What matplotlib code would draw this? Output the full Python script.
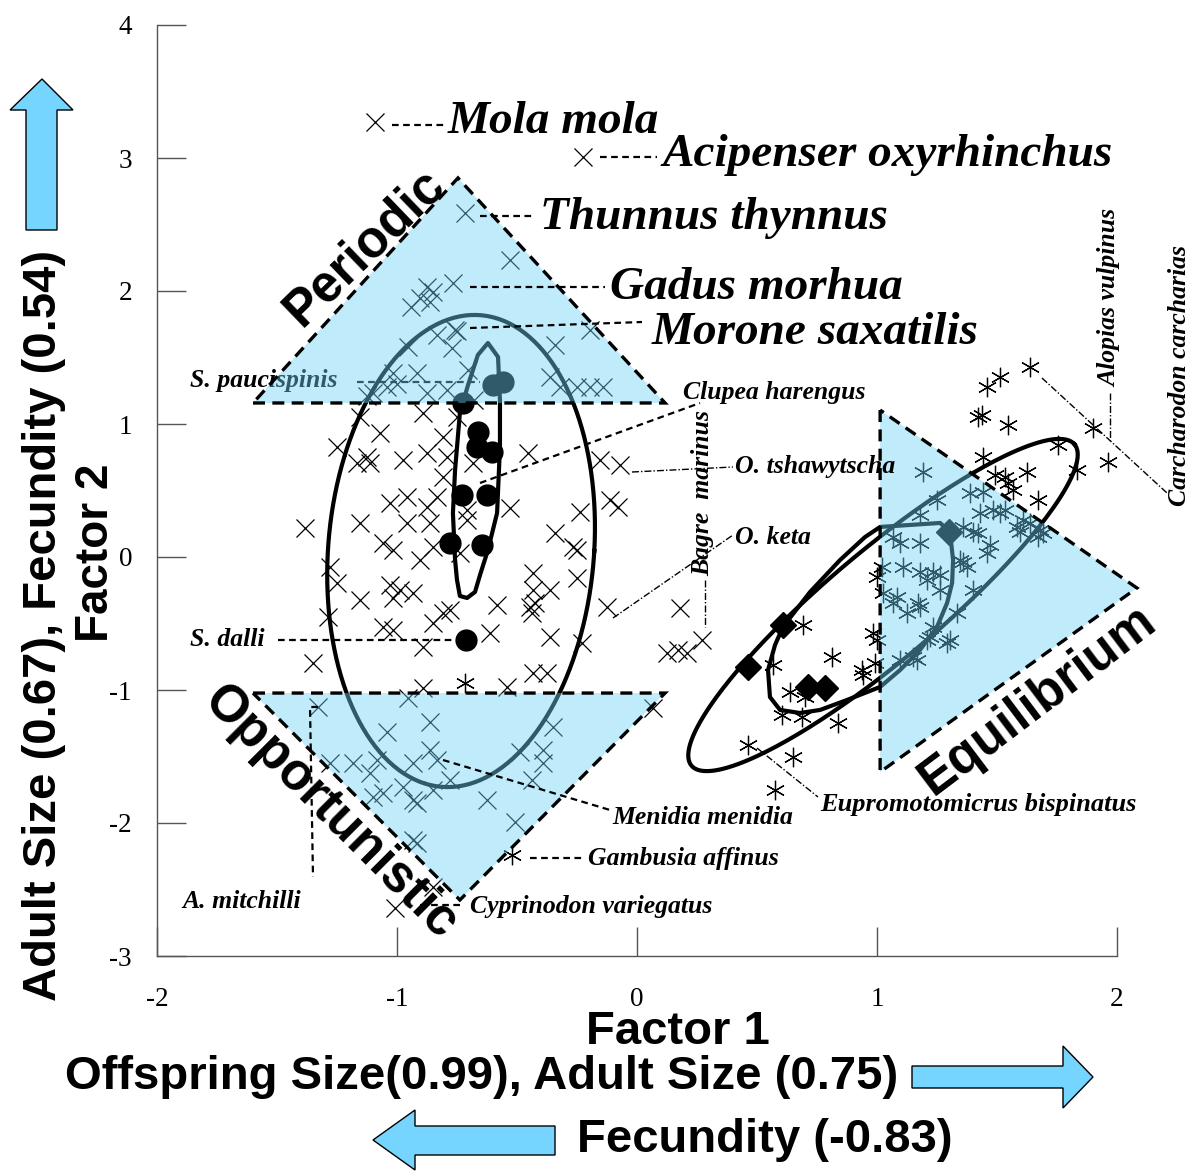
import numpy as np
import matplotlib
matplotlib.use("Agg")
import matplotlib.pyplot as plt
from matplotlib.patches import Polygon

plt.rcParams["axes.unicode_minus"] = False

# ---------------- data (factor scores) ----------------
# species with "x" markers (left group)
x_f1 = [-1.092, -0.225, -0.717, -0.529, -0.767, -0.875, -0.904, -0.863, -0.758, -0.833,
        -0.771, -0.954, -0.342, -0.196, -0.704, -0.917, -1.017, -1.042, -1.100, -0.875,
        -0.792, -0.363, -0.321, -0.250, -0.196, -0.142, -1.154, -1.071, -0.892, -0.808,
        -0.750, -1.250, -1.125, -1.167, -1.113, -0.975, -0.875, -0.792, -0.808, -0.683,
        -0.454, -0.154, -0.071, -1.029, -0.958, -0.875, -0.833, -0.708, -0.708, -0.529,
        -0.238, -0.113, -0.079, -1.383, -1.154, -0.958, -0.863, -1.058, -1.017, -0.904,
        -0.850, -0.738, -0.342, -0.267, -0.250, -1.279, -1.250, -1.288, -1.154, -1.029,
        -0.988, -0.933, -1.017, -0.808, -0.779, -0.850, -1.058, -1.017, -0.583, -0.433,
        -0.433, -0.363, -0.446, -0.250, -0.125, -0.613, -0.363, -0.229, -0.892, -1.350,
        -0.433, -0.375, -0.542, -0.892, -0.425, -0.438, 0.179, 0.125, 0.171, 0.208,
        0.271, 0.067, -1.329, -0.954, -0.863, -1.042, -1.279, -1.183, -1.113, -1.083,
        -0.933, -0.863, -0.833, -1.058, -0.975, -0.933, -0.850, -0.779, -0.625, -0.350,
        -0.392, -0.392, -0.438, -0.488, -1.100, -0.917, -0.933, -0.917, -0.508, -0.850,
        -1.008, -0.850, -0.940, -1.000, -1.125, -0.750, -0.680]
x_f2 = [3.271, 3.008, 2.586, 2.233, 2.060, 2.030, 1.947, 1.917, 1.707, 1.669,
        1.571, 1.579, 1.594, 1.707, 1.406, 1.383, 1.383, 1.278, 1.233, 1.233,
        1.256, 1.353, 1.278, 1.278, 1.278, 1.278, 1.053, 0.932, 1.083, 0.902,
        1.053, 0.827, 0.752, 0.707, 0.707, 0.729, 0.782, 0.752, 0.602, 0.707,
        0.782, 0.729, 0.692, 0.406, 0.451, 0.376, 0.451, 0.353, 0.278, 0.368,
        0.338, 0.429, 0.376, 0.218, 0.256, 0.256, 0.256, 0.105, 0.053, -0.023,
        0.075, 0.030, 0.180, 0.075, 0.053, -0.075, -0.195, -0.451, -0.323, -0.211,
        -0.248, -0.271, -0.308, -0.421, -0.398, -0.496, -0.526, -0.549, -0.361, -0.120,
        -0.248, -0.248, -0.376, -0.158, -0.376, -0.571, -0.602, -0.647, -0.677, -0.797,
        -0.872, -0.872, -0.977, -0.985, -0.346, -0.421, -0.383, -0.722, -0.699, -0.722,
        -0.624, -1.135, -1.128, -1.060, -1.241, -1.316, -1.549, -1.549, -1.624, -1.526,
        -1.549, -1.451, -1.526, -1.774, -1.729, -1.827, -1.752, -1.677, -1.827, -1.278,
        -1.451, -1.549, -1.677, -1.466, -1.805, -1.850, -2.128, -2.150, -1.992, -2.481,
        -2.639, 1.990, 1.880, 1.300, 1.210, 1.700, 1.180]

# species with asterisk markers (right group, plus two in the left group)
s_f1 = [1.638, 1.513, 1.458, 1.438, 1.421, 1.546, 1.900, 1.963, 1.754, 1.442,
        1.833, 1.492, 1.533, 1.546, 1.567, 1.625, 1.671, 1.000, 0.983, 1.000,
        0.992, 0.938, 0.942, 0.813, 0.692, 0.567, 0.638, 0.700, 0.604, 0.688,
        0.838, 0.463, 0.650, 0.575, 1.192, 1.250, 1.179, 1.388, 1.442, 1.429,
        1.513, 1.583, 1.638, 1.679, 1.671, 1.400, 1.067, 1.096, 1.179, 1.358,
        1.471, 1.458, 1.021, 1.108, 1.179, 1.233, 1.208, 1.346, 1.375, 1.263,
        1.400, 1.179, 1.083, 1.067, 1.025, 1.125, 1.333, 1.233, 1.221, 1.292,
        1.208, 1.096, 1.150, 1.608, 1.596, 1.692, 1.421, 1.358, 1.171, 1.304,
        1.167, 1.533, 1.483, 1.263, -0.717, -0.521]
s_f2 = [1.429, 1.353, 1.278, 1.068, 1.053, 0.992, 0.970, 0.714, 0.842, 0.752,
        0.654, 0.617, 0.602, 0.556, 0.504, 0.639, 0.429, -0.150, -0.571, -0.624,
        -0.797, -0.850, -0.887, -0.752, -0.511, -0.812, -1.015, -1.053, -1.188, -1.203,
        -1.248, -1.414, -1.504, -1.752, 0.639, 0.429, 0.316, 0.481, 0.489, 0.331,
        0.331, 0.226, 0.256, 0.203, 0.150, 0.188, 0.150, 0.105, 0.105, 0.226,
        0.090, 0.030, -0.075, -0.075, -0.113, -0.113, -0.173, -0.023, -0.075, -0.248,
        -0.248, -0.376, -0.301, -0.346, -0.271, -0.421, -0.421, -0.526, -0.602, -0.647,
        -0.624, -0.774, -0.752, 0.278, 0.188, 0.180, 0.180, -0.038, -0.346, -0.624,
        -0.774, 0.353, 0.353, -0.135, -0.947, -2.241]

# filled circles (rockfish / salmon group means)
c_f1 = [-0.600, -0.558, -0.725, -0.662, -0.667, -0.604, -0.729, -0.625, -0.779, -0.646, -0.713]
c_f2 = [1.293, 1.316, 1.158, 0.940, 0.827, 0.789, 0.466, 0.466, 0.105, 0.090, -0.624]

# filled diamonds (shark group)
d_f1 = [0.608, 0.463, 0.713, 0.783, 1.300]
d_f2 = [-0.511, -0.827, -0.977, -0.985, 0.188]

# confidence-ellipse parameters
big_left_c = (-0.733, 0.045); big_left_ax = (0.555, 1.775); big_left_shear = 0.056
big_right_c = (1.025, -0.361); big_right_u = (0.798, 1.208); big_right_v = (-0.147, 0.317)
small_left = [(-0.621, 1.609), (-0.579, 1.504), (-0.571, 1.180), (-0.571, 0.827), (-0.583, 0.331),
              (-0.621, 0.053), (-0.654, -0.135), (-0.675, -0.263), (-0.708, -0.308), (-0.738, -0.293),
              (-0.750, -0.173), (-0.758, -0.023), (-0.767, 0.331), (-0.758, 0.654), (-0.738, 1.083),
              (-0.704, 1.293), (-0.663, 1.519)]
small_right = [(1.013, 0.226), (1.263, 0.256), (1.304, 0.188), (1.317, -0.023), (1.313, -0.195),
               (1.292, -0.346), (1.250, -0.526), (1.179, -0.699), (1.096, -0.850), (1.013, -0.977),
               (0.875, -1.075), (0.763, -1.150), (0.679, -1.173), (0.596, -1.150), (0.554, -1.053),
               (0.546, -0.850), (0.575, -0.662), (0.608, -0.526), (0.721, -0.263), (0.846, -0.023),
               (0.950, 0.150)]

# strategy triangles
tri_periodic = [(-1.600, 1.158), (0.117, 1.158), (-0.746, 2.850)]
tri_opportunistic = [(-1.600, -1.023), (0.117, -1.023), (-0.738, -2.579)]
tri_equilibrium = [(1.013, 1.105), (1.013, -1.617), (2.083, -0.233)]

x_ticks = [-2, -1, 0, 1, 2]
y_ticks = [-3, -2, -1, 0, 1, 2, 3, 4]

# ---------------- figure ----------------
W, H = 1192, 1173
fig = plt.figure(figsize=(W / 100, H / 100), dpi=100)
L, R, T, B = 157, 1117, 25, 956
ax = fig.add_axes([L / W, 1 - B / H, (R - L) / W, (B - T) / H])
ax.set_xlim(-2, 2)
ax.set_ylim(-3, 4)


def d(px, py):
    """pixel position of the reference picture -> data coords (for annotations)"""
    return (px - 637) / 240.0, (557 - py) / 133.0


for s in ["top", "right"]:
    ax.spines[s].set_visible(False)
for s in ["left", "bottom"]:
    ax.spines[s].set_color("#555555")
    ax.spines[s].set_linewidth(1.0)
ax.set_xticks(x_ticks)
ax.set_yticks(y_ticks)
ax.tick_params(direction="in", length=21, width=1.0, color="#555555",
               labelsize=19.5, pad=18)
for lab in ax.get_xticklabels() + ax.get_yticklabels():
    lab.set_fontfamily("Liberation Serif")
ax.tick_params(axis="x", pad=22)

# ellipses
t = np.linspace(0, 2 * np.pi, 300)
ex = big_left_c[0] + big_left_ax[0] * np.cos(t) + big_left_shear * np.sin(t)
ey = big_left_c[1] + big_left_ax[1] * np.sin(t)
ax.plot(ex, ey, color="black", lw=3.0, zorder=2)
ex = big_right_c[0] + big_right_u[0] * np.cos(t) + big_right_v[0] * np.sin(t)
ey = big_right_c[1] + big_right_u[1] * np.cos(t) + big_right_v[1] * np.sin(t)
ax.plot(ex, ey, color="black", lw=3.0, zorder=2)
for poly in (small_left, small_right):
    ax.add_patch(Polygon(poly, closed=True, fill=False, ec="black", lw=3.0,
                         joinstyle="round", zorder=2))

# points
ax.plot(x_f1, x_f2, ls="none", marker="x", ms=13.5, mew=0.9, color="black", zorder=3)
ax.plot(s_f1, s_f2, ls="none", marker=(6, 2, 0), ms=14, mew=0.9, color="black", zorder=3)
ax.plot(c_f1, c_f2, ls="none", marker="o", ms=15, color="black", zorder=3)
ax.plot(d_f1, d_f2, ls="none", marker="D", ms=13, color="black", zorder=3)

# S. paucispinis label sits below the shading
ax.text(*d(190, 380), "S. paucispinis", fontfamily="Liberation Serif", fontsize=18.5,
        fontweight="bold", fontstyle="italic", ha="left", va="center", zorder=3.5)
ax.plot(*zip(d(357, 382), d(480, 382)), color="black", lw=1.6, ls=(0, (3, 2)), zorder=3.5)

# triangles
for tri in (tri_periodic, tri_opportunistic, tri_equilibrium):
    ax.add_patch(Polygon(tri, closed=True, fc="#6DD1F6", alpha=0.43, ec="none",
                         zorder=4, clip_on=False))
    ax.add_patch(Polygon(tri, closed=True, fill=False, ec="black", lw=2.4,
                         ls=(0, (3.6, 2.2)), zorder=5, clip_on=False))

# species labels
big = dict(fontfamily="Liberation Serif", fontsize=34, fontweight="bold",
           fontstyle="italic", ha="left", va="center", zorder=6)
small = dict(big, fontsize=18.5)
ax.text(*d(448, 122), "Mola mola", **big)
ax.text(*d(662, 155), "Acipenser oxyrhinchus", **big)
ax.text(*d(540, 218), "Thunnus thynnus", **big)
ax.text(*d(610, 288), "Gadus morhua", **big)
ax.text(*d(652, 333), "Morone saxatilis", **big)
ax.text(*d(683, 392), "Clupea harengus", **small)
ax.text(*d(735, 466), "O. tshawytscha", **small)
ax.text(*d(735, 538), "O. keta", **small)
ax.text(*d(190, 640), "S. dalli", **small)
ax.text(*d(612, 817), "Menidia menidia", **small)
ax.text(*d(588, 858), "Gambusia affinus", **small)
ax.text(*d(470, 907), "Cyprinodon variegatus", **small)
ax.text(*d(182, 902), "A. mitchilli", **small)
ax.text(*d(820, 804), "Eupromotomicrus bispinatus", **dict(small, fontsize=19))
vert = dict(small, ha="center", rotation=90)
ax.text(*d(703, 493), "Bagre  marinus", **vert)
ax.text(*d(1110, 298), "Alopias vulpinus", **vert)
ax.text(*d(1180, 375), "Carcharodon carcharias", **vert)

# leader lines
dashed = [[(392, 125), (445, 125)], [(600, 157), (657, 157)], [(480, 216), (535, 216)],
          [(470, 287), (605, 287)], [(470, 328), (642, 322)], [(480, 483), (700, 403)],
          [(278, 640), (455, 640)], [(443, 760), (610, 810)], [(530, 858), (585, 858)],
          [(420, 905), (463, 905)], [(318, 707), (310, 707), (313, 877)]]
for seg in dashed:
    xs, ys = zip(*[d(*p) for p in seg])
    ax.plot(xs, ys, color="black", lw=1.6, ls=(0, (3, 2)), zorder=6, clip_on=False)
dashdot = [[(632, 472), (733, 467)], [(613, 618), (733, 535)], [(705, 580), (705, 627)],
           [(1110, 393), (1110, 440)], [(1042, 378), (1167, 493)], [(757, 748), (818, 797)]]
for seg in dashdot:
    xs, ys = zip(*[d(*p) for p in seg])
    ax.plot(xs, ys, color="black", lw=1.0, ls=(0, (5, 1.5, 1, 1.5)), zorder=6, clip_on=False)

# strategy labels
reg = dict(fontfamily="Liberation Sans", fontsize=37, fontweight="bold",
           ha="center", va="center", zorder=6, rotation_mode="anchor")
ax.text(*d(365, 248), "Periodic", rotation=44, **reg)
ax.text(*d(330, 813), "Opportunistic", rotation=-45, **reg)
ax.text(*d(1038, 700), "Equilibrium", rotation=37, **reg)

# ---------------- overlay for axis titles and arrows (pixel coords) ----------------
ov = fig.add_axes([0, 0, 1, 1], zorder=10)
ov.set_xlim(0, W)
ov.set_ylim(H, 0)
ov.axis("off")
ov.patch.set_alpha(0)

arrow_col = "#75D5FF"
up = [(26, 230), (57, 230), (57, 110), (73, 110), (42, 79), (10, 110), (26, 110)]
right = [(912, 1066), (1063, 1066), (1063, 1046), (1093, 1077), (1063, 1108), (1063, 1088), (912, 1088)]
left = [(555, 1126), (415, 1126), (415, 1110), (373, 1140), (415, 1170), (415, 1155), (555, 1155)]
for poly in (up, right, left):
    ov.add_patch(Polygon(poly, closed=True, fc=arrow_col, ec="black", lw=1.0))

lab = dict(fontfamily="Liberation Sans", fontsize=34, fontweight="bold",
           ha="center", va="center")
ov.text(678, 1032, "Factor 1", **lab)
ov.text(482, 1077, "Offspring Size(0.99), Adult Size (0.75)", **lab)
ov.text(765, 1140, "Fecundity (-0.83)", **lab)
ov.text(44, 625, "Adult Size (0.67), Fecundity (0.54)", rotation=90, **lab)
ov.text(96, 553, "Factor 2", rotation=90, **dict(lab, fontsize=33))

fig.savefig("out.png", dpi=100)
